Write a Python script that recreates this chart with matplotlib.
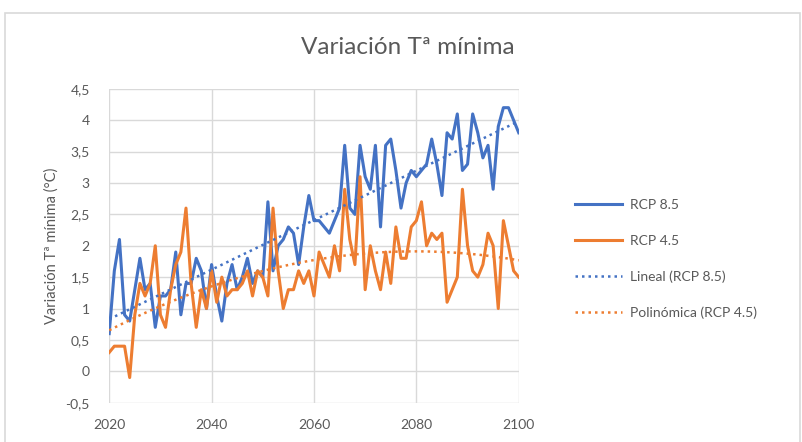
import numpy as np
import matplotlib.pyplot as plt
from matplotlib.patches import Rectangle
from matplotlib.ticker import FuncFormatter

# Minimum temperature anomaly (°C) per year under two emission scenarios
years = np.arange(2020, 2101)

rcp85 = [0.6, 1.6, 2.1, 0.9, 0.8, 1.3, 1.8, 1.3, 1.4, 0.7,
         1.2, 1.2, 1.3, 1.9, 0.9, 1.4, 1.4, 1.8, 1.6, 1.0,
         1.7, 1.2, 0.8, 1.4, 1.7, 1.3, 1.5, 1.8, 1.4, 1.6,
         1.5, 2.7, 1.6, 2.0, 2.1, 2.3, 2.2, 1.7, 2.3, 2.8,
         2.4, 2.4, 2.3, 2.2, 2.4, 2.6, 3.6, 2.6, 2.5, 3.6,
         3.1, 2.9, 3.6, 2.3, 3.6, 3.7, 3.2, 2.6, 3.0, 3.2,
         3.1, 3.2, 3.3, 3.7, 3.3, 2.8, 3.8, 3.7, 4.1, 3.2,
         3.3, 4.1, 3.8, 3.4, 3.6, 2.9, 3.9, 4.2, 4.2, 4.0,
         3.8]

rcp45 = [0.3, 0.4, 0.4, 0.4, -0.1, 0.9, 1.4, 1.2, 1.4, 2.0,
         0.9, 0.7, 1.3, 1.7, 1.9, 2.6, 1.4, 0.7, 1.3, 1.0,
         1.6, 1.1, 1.5, 1.2, 1.3, 1.3, 1.4, 1.6, 1.2, 1.6,
         1.5, 1.2, 2.6, 1.6, 1.0, 1.3, 1.3, 1.6, 1.4, 1.6,
         1.2, 1.9, 1.7, 1.5, 2.0, 1.6, 2.9, 2.1, 1.7, 3.1,
         1.3, 2.0, 1.6, 1.3, 1.9, 1.4, 2.3, 1.8, 1.8, 2.3,
         2.4, 2.7, 2.0, 2.2, 2.1, 2.2, 1.1, 1.3, 1.5, 2.9,
         2.0, 1.6, 1.5, 1.7, 2.2, 2.0, 1.0, 2.4, 2.0, 1.6,
         1.5]

labels = ["RCP 8.5", "RCP 4.5", "Lineal (RCP 8.5)", "Polinómica (RCP 4.5)"]
title = "Variación Tª mínima"
ylabel = "Variación Tª mínima (°C)"

BLUE = "#4472C4"
ORANGE = "#ED7D31"
TEXT = "#595959"
GRID = "#D9D9D9"

plt.rcParams['font.family'] = ['Lato', 'DejaVu Sans']

fig = plt.figure(figsize=(8.03, 4.42), dpi=100)
ax = fig.add_axes([0.136, 0.089, 0.510, 0.710])

# trend lines fitted like the spreadsheet does
lin = np.polyval(np.polyfit(years, rcp85, 1), years)
poly = np.polyval(np.polyfit(years - 2020, rcp45, 2), years - 2020)

h1, = ax.plot(years, rcp85, color=BLUE, lw=2.2, zorder=3)
h2, = ax.plot(years, rcp45, color=ORANGE, lw=2.2, zorder=3)
h3, = ax.plot(years, lin, color=BLUE, lw=1.8, ls=(0, (1, 1.6)), zorder=4)
h4, = ax.plot(years, poly, color=ORANGE, lw=1.8, ls=(0, (1, 1.6)), zorder=4)

ax.set_xlim(2020, 2100)
ax.set_ylim(-0.5, 4.5)
ax.set_xticks(np.arange(2020, 2101, 20))
ax.set_yticks(np.arange(-0.5, 4.51, 0.5))
ax.yaxis.set_major_formatter(FuncFormatter(lambda v, p: f"{v:g}".replace(".", ",")))
ax.grid(True, color=GRID, lw=1)
ax.set_axisbelow(True)
for s in ax.spines.values():
    s.set_visible(False)
ax.tick_params(length=0, labelsize=10, colors=TEXT, pad=14)
ax.tick_params(axis='x', pad=12)

ax.set_ylabel(ylabel, fontsize=10.5, color=TEXT, labelpad=5)
fig.text(0.508, 0.893, title, ha='center', va='center', fontsize=17.5,
         color=TEXT)

fig.legend([h1, h2, h3, h4], labels, loc='upper left',
           bbox_to_anchor=(0.700, 0.578), frameon=False, fontsize=10,
           labelcolor=TEXT, handlelength=3.4, handletextpad=0.6,
           labelspacing=1.7)

# outer chart frame
fig.add_artist(Rectangle((0.006, -0.05), 0.99, 1.02, transform=fig.transFigure,
                         fill=False, edgecolor=GRID, lw=1.2))

fig.savefig("out.png", dpi=100)
